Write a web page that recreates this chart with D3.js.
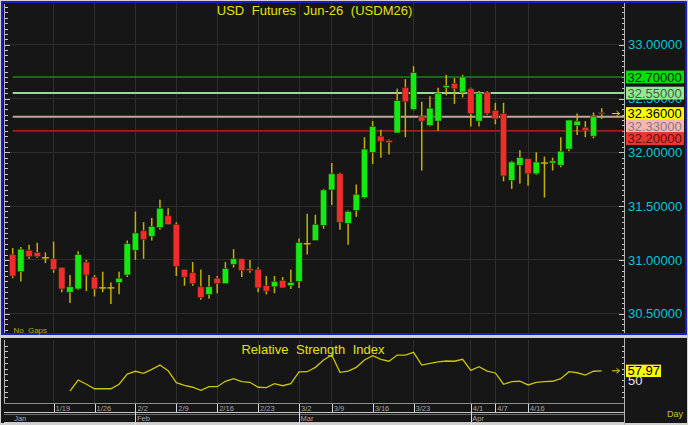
<!DOCTYPE html>
<html>
<head>
<meta charset="utf-8">
<script src="https://cdn.jsdelivr.net/npm/d3@7"></script>
<style>
    body { margin: 0; background: #d0d0d0; }
    svg { display: block; font-family: "Liberation Sans", Arial, sans-serif; }
</style>
</head>
<body>
<svg id="chart" width="688" height="425"></svg>
<script>
// daily candles, USDM26
let opens  = [31.05, 30.89, 31.09, 31.07, 31.02, 31.01, 30.93, 30.70, 30.73, 30.98, 30.84, 30.74, 30.74, 30.79, 30.86,
              31.09, 31.27, 31.22, 31.30, 31.41, 31.33, 30.91, 30.88, 30.75, 30.68, 30.83, 30.78, 30.96, 31.01, 30.92,
              30.91, 30.76, 30.75, 30.81, 30.76, 30.80, 31.15, 31.18, 31.32, 31.65, 31.80, 31.34, 31.46, 31.58, 32.00,
              32.15, 32.11, 32.18, 32.60, 32.40, 32.33, 32.25, 32.29, 32.60, 32.64, 32.56, 32.59, 32.29, 32.56, 32.39,
              32.36, 31.74, 31.88, 31.94, 31.80, 31.90, 31.90, 31.88, 32.03, 32.25, 32.23, 32.15, 32.37];
let highs  = [31.11, 31.12, 31.14, 31.16, 31.07, 31.17, 30.93, 30.86, 31.08, 31.00, 30.86, 30.89, 30.79, 30.89, 31.18,
              31.45, 31.35, 31.39, 31.56, 31.48, 31.35, 30.91, 30.98, 30.91, 30.86, 30.85, 30.98, 31.10, 31.01, 31.00,
              30.93, 30.85, 30.85, 30.84, 30.91, 31.20, 31.43, 31.42, 31.66, 31.90, 31.81, 31.46, 31.70, 32.14, 32.29,
              32.21, 32.12, 32.59, 32.68, 32.80, 32.47, 32.52, 32.60, 32.72, 32.69, 32.72, 32.60, 32.57, 32.57, 32.46,
              32.46, 31.92, 32.02, 31.94, 32.00, 31.96, 31.95, 32.14, 32.30, 32.36, 32.29, 32.37, 32.41];
let lows   = [30.83, 30.80, 31.01, 31.02, 30.97, 30.88, 30.70, 30.60, 30.72, 30.71, 30.66, 30.70, 30.59, 30.68, 30.84,
              31.00, 31.01, 31.18, 31.28, 31.33, 30.85, 30.76, 30.76, 30.63, 30.64, 30.69, 30.78, 30.93, 30.84, 30.88,
              30.70, 30.68, 30.69, 30.74, 30.73, 30.74, 31.05, 31.18, 31.29, 31.51, 31.28, 31.14, 31.40, 31.57, 31.89,
              31.95, 31.98, 32.18, 32.14, 32.39, 31.83, 32.24, 32.20, 32.53, 32.45, 32.51, 32.24, 32.24, 32.35, 32.26,
              31.73, 31.66, 31.71, 31.69, 31.79, 31.58, 31.83, 31.86, 32.01, 32.16, 32.14, 32.13, 32.31];
let closes = [30.85, 31.10, 31.03, 31.03, 31.02, 30.91, 30.73, 30.75, 31.05, 30.86, 30.73, 30.74, 30.74, 30.83, 31.15,
              31.25, 31.19, 31.31, 31.48, 31.33, 30.94, 30.84, 30.78, 30.65, 30.75, 30.78, 30.92, 31.01, 30.90, 30.90,
              30.74, 30.71, 30.80, 30.74, 30.79, 31.16, 31.15, 31.33, 31.65, 31.80, 31.35, 31.45, 31.61, 32.03, 32.24,
              32.10, 32.09, 32.48, 32.47, 32.74, 32.29, 32.41, 32.55, 32.62, 32.59, 32.70, 32.36, 32.55, 32.36, 32.31,
              31.78, 31.91, 31.95, 31.80, 31.91, 31.90, 31.92, 32.01, 32.30, 32.29, 32.20, 32.33, 32.36];

// RSI, first bars have no value
let rsi = [null, null, null, null, null, null, null,
           40.4, 50.0, 46.3, 42.4, 42.4, 42.4, 46.3, 55.2, 57.6, 55.8, 59.3, 63.0, 58.1, 47.7, 45.4, 43.7, 41.0,
           44.2, 44.2, 48.9, 51.1, 48.5, 48.0, 43.7, 43.3, 46.8, 45.0, 46.8, 57.0, 57.2, 61.0, 67.4, 71.7, 56.7,
           57.8, 61.0, 67.4, 71.1, 68.0, 66.3, 71.7, 71.7, 74.1, 63.0, 64.5, 65.7, 66.5, 66.3, 68.0, 58.4, 61.6,
           57.8, 56.1, 46.3, 48.5, 48.9, 45.7, 48.0, 48.5, 48.9, 51.1, 57.2, 56.3, 54.3, 57.6, 57.97];

let tick_idx = [5, 10, 15, 20, 25, 30, 35, 39, 44, 49, 56, 59, 63];
let tick_labels = ['1/19', '1/26', '2/2', '2/9', '2/16', '2/23', '3/2', '3/9', '3/16', '3/23', '4/1', '4/7', '4/16'];
let month_idx = [0, 15, 35, 56];
let month_labels = ['Jan', 'Feb', 'Mar', 'Apr'];

let price_ticks = [30.5, 31.0, 31.5, 32.0, 32.5, 33.0];
let levels = [32.70, 32.55, 32.33, 32.20];
let level_colors = ['#10c010', '#98d898', '#c8a2a2', '#d42222'];
let level_box = ['#00e000', '#90ec90', '#ffb4b4', '#f03434'];
let level_text = ['#0c280c', '#4a5a4a', '#7c7c7c', '#5a1010'];
let last_price = 32.36;
let rsi_ref = 50;

const svg = d3.select('#chart');
const plotL = 5, plotR = 624;
const mainTop = 3, mainBot = 333;
const rsiTop = 339, rsiBot = 403;

const x = d3.scaleLinear().domain([0, opens.length - 1]).range([12.7, 601.7]);
const y = d3.scaleLinear().domain([30.5, 33]).range([313.7, 44.7]);
const ry = d3.scaleLinear().domain([30, 85]).range([rsiBot, rsiBot - 55 * 1.15]);

// frames
svg.append('rect').attr('width', 688).attr('height', 425).attr('fill', '#d0d0d0');
svg.append('rect').attr('x', 1).attr('y', 1).attr('width', 686).attr('height', 334).attr('fill', '#161616');
svg.append('rect').attr('x', 2).attr('y', 2).attr('width', 684).attr('height', 332)
    .attr('fill', 'none').attr('stroke', '#1c1cc4').attr('stroke-width', 2);
svg.append('rect').attr('x', 1).attr('y', 338).attr('width', 686).attr('height', 85).attr('fill', '#161616');

// grid
const grid = svg.append('g').attr('stroke', '#2e2e2e').attr('stroke-width', 1).attr('shape-rendering', 'crispEdges');
grid.selectAll('line.h').data(price_ticks).join('line')
    .attr('x1', plotL).attr('x2', plotR)
    .attr('y1', d => y(d)).attr('y2', d => y(d));
grid.selectAll('line.v').data(tick_idx).join('line')
    .attr('x1', d => x(d)).attr('x2', d => x(d))
    .attr('y1', mainTop).attr('y2', mainBot);
grid.selectAll('line.rv').data(tick_idx).enter().append('line')
    .attr('x1', d => x(d)).attr('x2', d => x(d))
    .attr('y1', rsiTop + 1).attr('y2', rsiBot);

// axis rulers
const minor = d3.range(30.35, 33.4, 0.05).map(d => Math.round(d * 100) / 100);
const isMajor = d => Math.abs(d * 2 - Math.round(d * 2)) < 1e-6;
const axisStyle = g => {
    g.select('.domain').remove();
    g.selectAll('line').attr('stroke', '#c8c8c8');
    g.attr('shape-rendering', 'crispEdges');
};
svg.append('g').attr('transform', 'translate(' + (plotR + 0.5) + ',0)')
    .call(d3.axisLeft(y).tickValues(minor).tickSizeInner(3).tickSizeOuter(0).tickFormat(''))
    .call(axisStyle)
    .selectAll('.tick line').attr('x2', d => isMajor(d) ? -6 : -3);
svg.append('g').attr('transform', 'translate(4.5,0)')
    .call(d3.axisRight(y).tickValues(minor).tickSizeInner(3).tickSizeOuter(0).tickFormat(''))
    .call(axisStyle)
    .selectAll('.tick line').attr('x2', d => isMajor(d) ? 5 : 3);

const rsiTicks = d3.range(30, 86, 5).filter(d => ry(d) > rsiTop + 1 && ry(d) < rsiBot - 1);
svg.append('g').attr('transform', 'translate(' + (plotR + 0.5) + ',0)')
    .call(d3.axisLeft(ry).tickValues(rsiTicks).tickSizeInner(3).tickSizeOuter(0).tickFormat(''))
    .call(axisStyle);
svg.append('g').attr('transform', 'translate(4.5,0)')
    .call(d3.axisRight(ry).tickValues(rsiTicks).tickSizeInner(3).tickSizeOuter(0).tickFormat(''))
    .call(axisStyle);

const frame = svg.append('g').attr('stroke', '#b4b4b4').attr('shape-rendering', 'crispEdges');
frame.append('line').attr('x1', 4.5).attr('x2', 4.5).attr('y1', mainTop + 1).attr('y2', mainBot);
frame.append('line').attr('x1', plotR + 0.5).attr('x2', plotR + 0.5).attr('y1', mainTop).attr('y2', mainBot);
frame.append('line').attr('x1', 4.5).attr('x2', 4.5).attr('y1', rsiTop + 1).attr('y2', rsiBot);
frame.append('line').attr('x1', plotR + 0.5).attr('x2', plotR + 0.5).attr('y1', 338).attr('y2', 425);
frame.append('line').attr('x1', 4).attr('x2', plotR).attr('y1', rsiBot + 0.5).attr('y2', rsiBot + 0.5).attr('stroke', '#8c8c8c');
frame.append('line').attr('x1', 4).attr('x2', plotR).attr('y1', 412.5).attr('y2', 412.5).attr('stroke', '#c8c8c8');
frame.append('line').attr('x1', 4).attr('x2', plotR).attr('y1', 414.5).attr('y2', 414.5).attr('stroke', '#6c6c6c');
frame.append('line').attr('x1', 4).attr('x2', plotR).attr('y1', 422.5).attr('y2', 422.5).attr('stroke', '#c8c8c8');

// levels
svg.append('g').selectAll('line').data(levels).join('line')
    .attr('x1', x(0)).attr('x2', plotR)
    .attr('y1', d => y(d)).attr('y2', d => y(d))
    .attr('stroke', (d, i) => level_colors[i])
    .attr('stroke-width', (d, i) => (i === 1 || i === 2) ? 2 : 1.2);

// candles
const bars = d3.range(opens.length);
const candles = svg.append('g');
candles.selectAll('line.wick').data(bars).join('line')
    .attr('class', 'wick')
    .attr('x1', i => x(i)).attr('x2', i => x(i))
    .attr('y1', i => y(highs[i])).attr('y2', i => y(lows[i]))
    .attr('stroke', '#c4b000').attr('stroke-width', 1.5);
candles.selectAll('rect').data(bars.filter(i => opens[i] !== closes[i])).join('rect')
    .attr('x', i => x(i) - 3.2)
    .attr('width', 6.4)
    .attr('y', i => y(Math.max(opens[i], closes[i])))
    .attr('height', i => Math.max(1.5, Math.abs(y(opens[i]) - y(closes[i]))))
    .attr('fill', i => closes[i] > opens[i] ? '#12ea12' : '#f22c2c')
    .attr('stroke', '#2a2a10').attr('stroke-width', 0.6);
candles.selectAll('line.doji').data(bars.filter(i => opens[i] === closes[i])).enter().append('line')
    .attr('x1', i => x(i) - 3.5).attr('x2', i => x(i) + 3.5)
    .attr('y1', i => y(opens[i])).attr('y2', i => y(opens[i]))
    .attr('stroke', '#c4b000').attr('stroke-width', 1.5);

// price labels on the right
svg.append('g').selectAll('text').data(price_ticks).join('text')
    .attr('x', 628).attr('y', d => y(d) + 4.6)
    .attr('font-size', 13).attr('fill', '#00c4d6')
    .text(d => d3.format('.5f')(d));

let tags = levels.map((d, i) => ({v: d, box: level_box[i], ink: level_text[i]}));
tags.push({v: last_price, box: '#ffff00', ink: '#000000'});
tags.sort((a, b) => b.v - a.v);
let prev = -100;
tags.forEach(t => {
    t.cy = Math.max(y(t.v), prev + 12.5);
    prev = t.cy;
});
const tag = svg.append('g').selectAll('g').data(tags).join('g');
tag.append('rect')
    .attr('x', 626).attr('width', 58)
    .attr('y', d => d.cy - 6.4).attr('height', 12.8)
    .attr('fill', d => d.box);
tag.append('text')
    .attr('x', 627.5).attr('y', d => d.cy + 4.6)
    .attr('font-size', 13).attr('fill', d => d.ink)
    .text(d => d3.format('.5f')(d.v));

function arrow(yy) {
    svg.append('path')
        .attr('d', 'M612,' + yy + 'H619.5M616.5,' + (yy - 2.5) + 'L619.5,' + yy + 'L616.5,' + (yy + 2.5))
        .attr('fill', 'none').attr('stroke', '#d8d800').attr('stroke-width', 1);
}
arrow(y(last_price));

// titles
svg.append('text').attr('x', 314.5).attr('y', 15)
    .attr('text-anchor', 'middle').attr('font-size', 13).attr('word-spacing', 4)
    .attr('fill', '#e2e200').text('USD Futures Jun-26 (USDM26)');
svg.append('text').attr('x', 13.5).attr('y', 332.5)
    .attr('font-size', 8).attr('word-spacing', 2).attr('fill', '#b0b000').text('No Gaps');

// RSI panel
svg.append('text').attr('x', 313).attr('y', 353.5)
    .attr('text-anchor', 'middle').attr('font-size', 13).attr('word-spacing', 4)
    .attr('fill', '#e2e200').text('Relative Strength Index');

svg.append('path')
    .datum(bars)
    .attr('d', d3.line().defined(i => rsi[i] != null).x(i => x(i)).y(i => ry(rsi[i])))
    .attr('fill', 'none').attr('stroke', '#c8c400').attr('stroke-width', 1.3);

const lastRsi = rsi[rsi.length - 1];
arrow(ry(lastRsi));
svg.append('text').attr('x', 628).attr('y', ry(rsi_ref) + 4.8)
    .attr('font-size', 13).attr('fill', '#e6e6e6').text(rsi_ref);
svg.append('rect').attr('x', 626).attr('y', ry(lastRsi) - 6.2)
    .attr('width', 35).attr('height', 12.4).attr('fill', '#ffff00');
svg.append('text').attr('x', 627.5).attr('y', ry(lastRsi) + 4.6)
    .attr('font-size', 13).attr('fill', '#000').text(d3.format('.2f')(lastRsi));

// date rows
const dates = svg.append('g');
dates.selectAll('line').data(tick_idx).join('line')
    .attr('x1', d => x(d) + 0.5).attr('x2', d => x(d) + 0.5)
    .attr('y1', rsiBot + 1).attr('y2', 412)
    .attr('stroke', '#d8d8d8').attr('shape-rendering', 'crispEdges');
dates.selectAll('text').data(tick_idx).join('text')
    .attr('x', d => x(d) + 2).attr('y', 411)
    .attr('font-size', 7.5).attr('fill', '#a8a8a8')
    .text((d, i) => tick_labels[i]);

const months = svg.append('g');
months.selectAll('line').data(month_idx.slice(1)).join('line')
    .attr('x1', d => x(d) + 0.5).attr('x2', d => x(d) + 0.5)
    .attr('y1', 412).attr('y2', 425)
    .attr('stroke', '#d8d8d8').attr('shape-rendering', 'crispEdges');
months.selectAll('text').data(month_idx).join('text')
    .attr('x', d => x(d) + 1.5).attr('y', 421)
    .attr('font-size', 7.5).attr('fill', '#a8a8a8')
    .text((d, i) => month_labels[i]);

svg.append('text').attr('x', 667).attr('y', 417)
    .attr('font-size', 9).attr('fill', '#c8c800').text('Day');
</script>
</body>
</html>
